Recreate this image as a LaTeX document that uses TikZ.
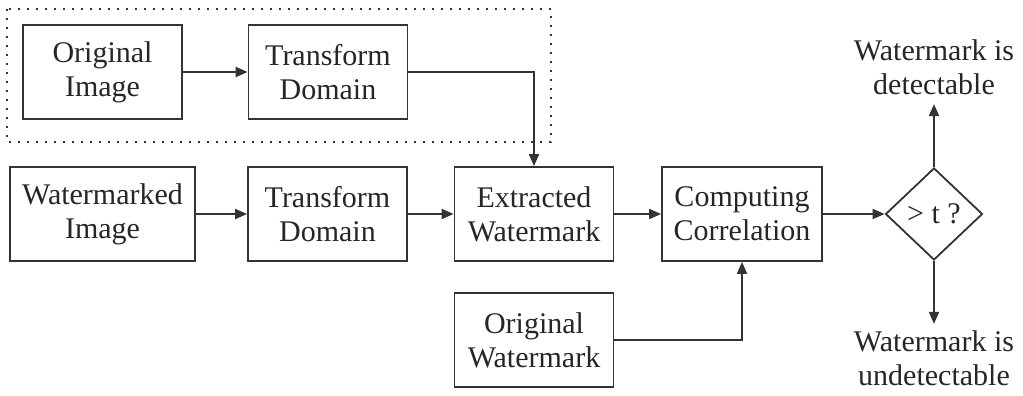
\documentclass[tikz,border=0pt]{standalone}
\usepackage{fontspec}
\setmainfont{Liberation Serif}
\usetikzlibrary{arrows.meta, positioning, shapes.geometric}

\begin{document}
\begin{tikzpicture}[x=0.5pt,y=-0.5pt,->,>={Triangle[length=6pt,width=5pt]},draw=black!80,line width=0.9pt]
    \tikzstyle{block}=[rectangle,draw=black!80,minimum width=79.5pt,minimum height=47pt,inner sep=2pt,align=center,font=\fontsize{15}{17}\selectfont,text=black!85]
    \tikzstyle{decision}=[block,diamond,minimum width=48.5pt,minimum height=46pt,inner sep=0pt]
    \tikzstyle{annot}=[align=center,font=\fontsize{15}{17}\selectfont,text=black!85]

    \useasboundingbox (0,0) rectangle (1023,396);

    % Reference part (dotted frame)
    \draw[-,line width=1pt,dash pattern=on 1pt off 3.5pt] (7,9) rectangle (551,142);
    \node[block] (oimg) at (102.5,72) {Original\\Image};
    \node[block] (tdom1) at (328,72) {Transform\\Domain};

    % Detection chain
    \node[block,minimum width=92.5pt] (wimg) at (102.5,214) {Watermarked\\Image};
    \node[block] (tdom2) at (327.5,214) {Transform\\Domain};
    \node[block] (extr) at (534,214) {Extracted\\Watermark};
    \node[block,minimum width=80pt] (corr) at (742,214) {Computing\\Correlation};
    \node[decision] (dec) at (934,214) {> t ?};
    \node[block] (owm) at (534,340) {Original\\Watermark};

    % Outcomes
    \node[annot,inner sep=4pt,above=31.5pt of dec] (det) {Watermark is\\detectable};
    \node[annot,inner sep=3pt,below=31.5pt of dec] (undet) {Watermark is\\undetectable};

    % Connect the blocks
    \foreach \source/\dest in {oimg/tdom1,wimg/tdom2,tdom2/extr,extr/corr,corr/dec}
        \draw (\source) -- (\dest);
    \draw (tdom1) -| (extr);
    \draw (owm) -| (corr);
    \draw (dec) -- (det);
    \draw (dec) -- (undet);
\end{tikzpicture}
\end{document}
